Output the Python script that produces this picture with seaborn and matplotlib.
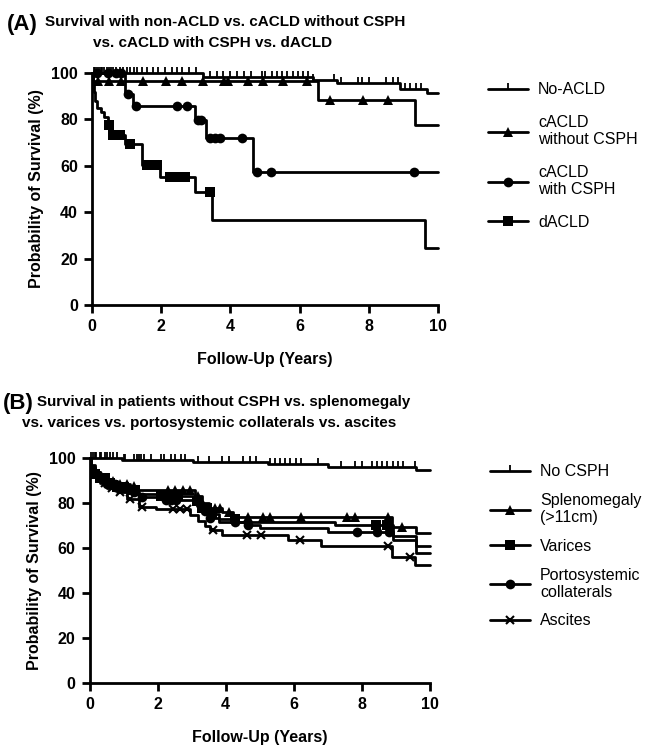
import numpy as np
import matplotlib
matplotlib.use("Agg")
import matplotlib.pyplot as plt
from matplotlib.path import Path
from matplotlib.lines import Line2D
import seaborn as sns

# ---------------- Panel A data ----------------
noacld_t = [0, 3.2, 6.4, 7.07, 8.9, 9.67]
noacld_s = [100, 98.3, 97.0, 95.6, 93.0, 91.2]
noacld_cens = [0.05, 0.1, 0.15, 0.2, 0.25, 0.3, 0.35, 0.42, 0.5, 0.55, 0.62, 0.7, 0.8, 0.9,
               1.0, 1.1, 1.2, 1.3, 1.45, 1.6, 1.75, 1.9, 2.1, 2.3, 2.45, 2.6, 2.8, 3.0,
               3.4, 3.6, 3.8, 4.0, 4.2, 4.4, 4.6, 4.9, 5.0, 5.2, 5.35, 5.5, 5.65, 5.8, 5.95,
               6.1, 6.25, 6.4, 7.0, 7.2, 7.7, 7.8, 8.0, 8.5, 8.7, 8.85, 9.05, 9.2, 9.35, 9.5]
noacld_end = 10

cwo_t = [0, 0.03, 6.53, 9.33]
cwo_s = [100, 96.5, 88.4, 77.6]
cwo_cens = [0.17, 0.5, 0.85, 1.47, 2.15, 2.6, 3.2, 3.82, 3.93, 4.5, 4.94, 5.52, 6.2,
            6.88, 7.84, 8.55]
cwo_end = 10

cw_t = [0, 0.95, 1.19, 2.98, 3.3, 4.66]
cw_s = [100, 90.8, 85.8, 79.7, 71.8, 57.5]
cw_cens = [0.15, 0.45, 0.68, 0.85, 1.05, 1.27, 2.46, 2.75, 3.05, 3.15, 3.41, 3.55, 3.7,
           4.33, 4.77, 5.17, 9.3]
cw_end = 10

d_t = [0, 0.03, 0.06, 0.1, 0.15, 0.25, 0.35, 0.45, 0.56, 0.95, 1.44, 1.97, 2.98, 3.46, 9.62]
d_s = [100, 96, 92, 88, 85, 83, 81, 77.6, 73.3, 69.3, 60.3, 55.3, 48.8, 36.6, 24.5]
d_cens = [0.5, 0.6, 0.7, 0.8, 1.1, 1.58, 1.87, 2.25, 2.4, 2.55, 2.7, 3.41]
d_end = 10

# ---------------- Panel B data ----------------
nocsph_t = [0, 0.95, 3.04, 5.24, 7.0, 9.6]
nocsph_s = [100, 99.2, 98.3, 97.3, 96.2, 94.6]
nocsph_cens = [0.05, 0.1, 0.15, 0.2, 0.3, 0.35, 0.45, 0.5, 0.6, 0.7, 0.8, 1.0, 1.05, 1.3,
               1.4, 1.45, 1.5, 1.6, 1.8, 2.1, 2.2, 2.4, 2.5, 2.7, 2.8, 3.2, 3.5, 3.9,
               4.1, 4.5, 4.7, 4.9, 5.3, 5.45, 5.6, 5.75, 5.9, 6.05, 6.2, 6.7, 7.4, 7.8,
               8.0, 8.3, 8.45, 8.6, 8.75, 8.9, 9.05, 9.2, 9.55]
nocsph_end = 10

spl_t = [0, 0.05, 0.15, 0.3, 0.5, 0.8, 1.2, 1.4, 3.1, 3.3, 3.5, 3.9, 4.2, 8.87, 9.6]
spl_s = [100, 97, 94, 92, 90, 88.5, 87.5, 85.8, 83, 80, 77.6, 76, 73.9, 69.2, 66.8]
spl_cens = [0.2, 0.35, 0.55, 0.7, 0.9, 1.1, 1.3, 2.3, 2.5, 2.75, 2.95, 3.2, 3.7, 3.83,
            4.1, 4.65, 5.1, 5.3, 6.2, 7.55, 7.8, 8.78, 9.17]
spl_end = 10

var_t = [0, 0.05, 0.15, 0.3, 0.5, 0.8, 1.2, 1.4, 2.0, 3.1, 3.3, 3.5, 3.8, 4.3, 7.2, 8.9, 9.6]
var_s = [100, 96, 93, 91, 89, 87, 86, 84, 83, 81, 78, 75, 73, 71.5, 70.2, 65.5, 61]
var_cens = [0.15, 0.3, 0.45, 0.6, 0.8, 1.0, 1.25, 1.35, 2.1, 2.3, 2.45, 2.6, 3.15, 3.3,
            3.45, 3.6, 4.27, 8.4, 8.75]
var_end = 10

col_t = [0, 0.05, 0.15, 0.3, 0.5, 0.8, 1.2, 1.45, 2.2, 3.1, 3.3, 3.5, 3.8, 4.6, 5.0, 7.0, 8.9, 9.6]
col_s = [100, 95.5, 92.5, 90.5, 88.5, 86.5, 85, 82.5, 81.5, 79.5, 76.5, 73.5, 71.5, 70.2,
         69, 67.3, 63.5, 57.9]
col_cens = [0.25, 0.5, 0.75, 1.0, 1.3, 1.53, 2.25, 2.4, 2.55, 3.25, 3.4, 3.55, 4.27, 4.65,
            7.85, 8.43, 8.8]
col_end = 10

asc_t = [0, 0.05, 0.15, 0.3, 0.5, 0.8, 1.1, 1.44, 1.94, 2.95, 3.2, 3.4, 3.54, 3.9, 5.83,
         6.8, 8.87, 9.56]
asc_s = [100, 95, 91.5, 89, 86.7, 85, 82, 78.1, 77.2, 74.7, 72, 70, 68, 65.8, 63.6, 60.9,
         56.1, 52.4]
asc_cens = [0.46, 0.65, 0.9, 1.2, 1.53, 2.45, 2.65, 2.86, 3.63, 4.63, 5.03, 6.18, 8.78, 9.41]
asc_end = 10

xticks = [0, 2, 4, 6, 8, 10]
yticks = [0, 20, 40, 60, 80, 100]

legend_A = ["No-ACLD", "cACLD\nwithout CSPH", "cACLD\nwith CSPH", "dACLD"]
legend_B = ["No CSPH", "Splenomegaly\n(>11cm)", "Varices", "Portosystemic\ncollaterals", "Ascites"]

title_A1 = "Survival with non-ACLD vs. cACLD without CSPH"
title_A2 = "vs. cACLD with CSPH vs. dACLD"
title_B1 = "Survival in patients without CSPH vs. splenomegaly"
title_B2 = "vs. varices vs. portosystemic collaterals vs. ascites"

# ---------------- styling ----------------
sns.set_theme(style="ticks")
plt.rcParams['font.family'] = ['Liberation Sans', 'DejaVu Sans']
for k in ['text.color', 'axes.labelcolor', 'xtick.color', 'ytick.color', 'axes.edgecolor']:
    plt.rcParams[k] = 'black'
TITLE_FONT = ['Liberation Sans', 'DejaVu Sans']

uptick = Path([(0, 0), (0, 1)], [Path.MOVETO, Path.LINETO])


def step_xy(t, s, end):
    x = list(t) + [end]
    y = list(s) + [s[-1]]
    return np.array(x, float), np.array(y, float)


def surv_at(t, s, times):
    t = np.asarray(t, float)
    s = np.asarray(s, float)
    idx = np.searchsorted(t, np.asarray(times, float), side='right') - 1
    return s[idx]


def draw_curve(ax, t, s, end, cens, marker, ms, mew=0, filled=True):
    x, y = step_xy(t, s, end)
    sns.lineplot(x=x, y=y, drawstyle='steps-post', color='black', lw=2.0, ax=ax,
                 estimator=None, sort=False, clip_on=False)
    cy = surv_at(t, s, cens)
    if marker is uptick:
        ax.plot(cens, cy, linestyle='none', marker=uptick, ms=ms, mew=1.3,
                color='black', clip_on=False)
    elif filled:
        ax.plot(cens, cy, linestyle='none', marker=marker, ms=ms, mew=0,
                color='black', clip_on=False)
    else:
        ax.plot(cens, cy, linestyle='none', marker=marker, ms=ms, mew=mew,
                color='black', clip_on=False)


def style_axes(ax):
    ax.set_xlim(0, 10)
    ax.set_ylim(0, 100)
    ax.set_xticks(xticks)
    ax.set_yticks(yticks)
    for sp in ['top', 'right']:
        ax.spines[sp].set_visible(False)
    for sp in ['left', 'bottom']:
        ax.spines[sp].set_linewidth(2.0)
        ax.spines[sp].set_color('black')
    ax.tick_params(axis='both', direction='out', length=6, width=2.0, colors='black',
                   labelsize=11.5, pad=4)
    for lab in ax.get_xticklabels() + ax.get_yticklabels():
        lab.set_fontweight('bold')
    ax.set_xlabel("Follow-Up (Years)", fontsize=11.5, fontweight='bold', labelpad=13)
    ax.set_ylabel("Probability of Survival (%)", fontsize=11.5, fontweight='bold', labelpad=5)
    ax.set_facecolor('white')


fig = plt.figure(figsize=(6.46, 7.49), dpi=100)
fig.patch.set_facecolor('white')

axA = fig.add_axes([92 / 646, 1 - 305 / 749, (438 - 92) / 646, (305 - 73) / 749])
axB = fig.add_axes([89.5 / 646, 1 - 683 / 749, (430 - 89.5) / 646, (683 - 458) / 749])

# Panel A
draw_curve(axA, noacld_t, noacld_s, noacld_end, noacld_cens, uptick, 9)
draw_curve(axA, cwo_t, cwo_s, cwo_end, cwo_cens, '^', 7.5)
draw_curve(axA, cw_t, cw_s, cw_end, cw_cens, 'o', 7)
draw_curve(axA, d_t, d_s, d_end, d_cens, 's', 6.5)
style_axes(axA)

# Panel B
draw_curve(axB, nocsph_t, nocsph_s, nocsph_end, nocsph_cens, uptick, 9)
draw_curve(axB, spl_t, spl_s, spl_end, spl_cens, '^', 7)
draw_curve(axB, var_t, var_s, var_end, var_cens, 's', 6.5)
draw_curve(axB, col_t, col_s, col_end, col_cens, 'o', 7)
draw_curve(axB, asc_t, asc_s, asc_end, asc_cens, 'x', 6, mew=1.5, filled=False)
style_axes(axB)

# Legends
def handle(marker, ms, mew=0):
    if marker is uptick:
        return Line2D([], [], color='black', lw=2, marker=uptick, ms=9, mew=1.3)
    return Line2D([], [], color='black', lw=2, marker=marker, ms=ms, mew=mew)

hA = [handle(uptick, 9), handle('^', 7.5), handle('o', 7), handle('s', 6.5)]
legA = fig.legend(hA, legend_A, loc='upper left', bbox_to_anchor=(482 / 646, 1 - 76 / 749),
                  frameon=False, fontsize=11.5, handlelength=2.5, handletextpad=0.6,
                  labelspacing=1.1, borderaxespad=0)
hB = [handle(uptick, 9), handle('^', 7), handle('s', 6.5), handle('o', 7), handle('x', 6, 1.5)]
legB = fig.legend(hB, legend_B, loc='upper left', bbox_to_anchor=(484 / 646, 1 - 458 / 749),
                  frameon=False, fontsize=11.5, handlelength=2.5, handletextpad=0.6,
                  labelspacing=0.85, borderaxespad=0)

# Titles
fig.text(7 / 646, 1 - 30 / 749, "(A)", fontsize=16, fontweight='bold', family=TITLE_FONT,
         va='baseline', ha='left')
fig.text(45 / 646, 1 - 26 / 749, title_A1, fontsize=11, fontweight='bold', family=TITLE_FONT,
         va='baseline', ha='left')
fig.text(93 / 646, 1 - 47 / 749, title_A2, fontsize=11, fontweight='bold', family=TITLE_FONT,
         va='baseline', ha='left')
fig.text(3 / 646, 1 - 409 / 749, "(B)", fontsize=16, fontweight='bold', family=TITLE_FONT,
         va='baseline', ha='left')
fig.text(37 / 646, 1 - 406 / 749, title_B1, fontsize=10.9, fontweight='bold', family=TITLE_FONT,
         va='baseline', ha='left')
fig.text(22 / 646, 1 - 427 / 749, title_B2, fontsize=11, fontweight='bold', family=TITLE_FONT,
         va='baseline', ha='left')

fig.savefig("out.png", dpi=100, facecolor='white')
